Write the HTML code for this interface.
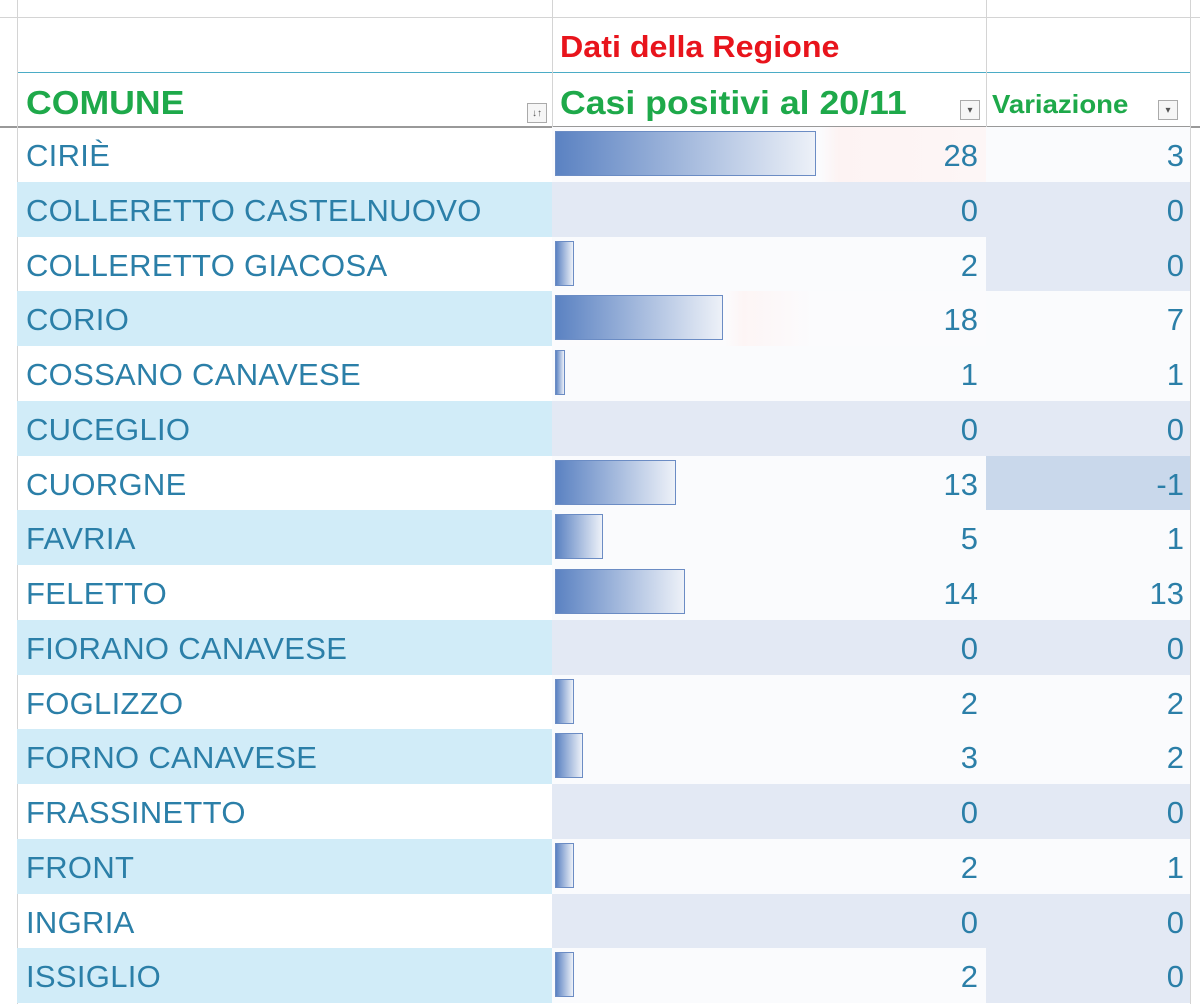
<!DOCTYPE html>
<html><head><meta charset="utf-8"><style>
body{margin:0;width:1200px;height:1004px;overflow:hidden;background:#fff;font-family:"Liberation Sans",sans-serif;position:relative}
.vl{position:absolute;top:0;width:1px;background:#d4d4d4;height:127px}
.hl{position:absolute;left:0;width:1200px;height:1px;background:#d4d4d4}
.r{position:absolute;left:17px;width:1173px;height:55px;font-size:31px;color:#2b7fa8}
.a{position:absolute;left:0;top:0;width:535px;height:100%;padding-left:9px;box-sizing:border-box;line-height:57px;letter-spacing:0.3px}
.b{position:absolute;left:535px;top:0;width:434px;height:100%;text-align:right;padding-right:8px;box-sizing:border-box;line-height:57px}
.c{position:absolute;left:969px;top:0;width:204px;height:100%;text-align:right;padding-right:6px;box-sizing:border-box;line-height:57px}
.bar{position:absolute;left:3px;top:4px;height:45px;box-sizing:border-box;border:1.5px solid #6b8cc4;background:linear-gradient(to right,#5b82c2,#edf1f8)}
.e .a{background:#d1ecf8}
.z{background:#e3e9f4}.p{background:#fafbfd}.n{background:#c9d8eb}
.dd{position:absolute;width:20px;height:20px;border:1px solid #aaa;background:#f6f6f6;font-size:10px;color:#555;text-align:center;line-height:20px;box-sizing:border-box}
</style></head><body>
<div class="hl" style="top:17px"></div>
<div class="hl" style="top:72px;background:#4bacc6;left:17px;width:1173px"></div>
<div class="hl" style="top:126px;background:#999;height:2px"></div>
<div class="vl" style="left:17px;height:1004px"></div>
<div class="vl" style="left:552px"></div>
<div class="vl" style="left:986px"></div>
<div class="vl" style="left:1190px;height:1004px"></div>
<div style="position:absolute;left:560px;top:29px;font-size:31px;font-weight:bold;color:#e8141c;transform:scaleX(1.04);transform-origin:left">Dati della Regione</div>
<div style="position:absolute;left:26px;top:84px;font-size:33px;font-weight:bold;color:#1ea94a;transform:scaleX(1.08);transform-origin:left">COMUNE</div>
<div style="position:absolute;left:560px;top:84px;font-size:33px;font-weight:bold;color:#1ea94a;transform:scaleX(1.08);transform-origin:left">Casi positivi al 20/11</div>
<div style="position:absolute;left:992px;top:89px;font-size:26px;font-weight:bold;color:#1ea94a;transform:scaleX(1.06);transform-origin:left">Variazione</div>
<div class="dd" style="left:527px;top:103px">↓↑</div>
<div class="dd" style="left:960px;top:100px">▾</div>
<div class="dd" style="left:1158px;top:100px">▾</div>

<div class="r" style="top:127px"><div class="a">CIRIÈ</div><div class="b" style="background:linear-gradient(to right,#fbfbfd 62%,#fdf3f3 66%,#fdf6f6)"><div class="bar" style="width:261px"></div>28</div><div class="c p">3</div></div>
<div class="r e" style="top:182px"><div class="a">COLLERETTO CASTELNUOVO</div><div class="b z">0</div><div class="c z">0</div></div>
<div class="r" style="top:237px"><div class="a">COLLERETTO GIACOSA</div><div class="b p"><div class="bar" style="width:19px"></div>2</div><div class="c z">0</div></div>
<div class="r e" style="top:291px"><div class="a">CORIO</div><div class="b" style="background:linear-gradient(to right,#fbfbfd 40%,#fdf5f5 44%,#fbfbfd 60%)"><div class="bar" style="width:168px"></div>18</div><div class="c p">7</div></div>
<div class="r" style="top:346px"><div class="a">COSSANO CANAVESE</div><div class="b p"><div class="bar" style="width:10px"></div>1</div><div class="c p">1</div></div>
<div class="r e" style="top:401px"><div class="a">CUCEGLIO</div><div class="b z">0</div><div class="c z">0</div></div>
<div class="r" style="top:456px"><div class="a">CUORGNE</div><div class="b p"><div class="bar" style="width:121px"></div>13</div><div class="c n">-1</div></div>
<div class="r e" style="top:510px"><div class="a">FAVRIA</div><div class="b p"><div class="bar" style="width:48px"></div>5</div><div class="c p">1</div></div>
<div class="r" style="top:565px"><div class="a">FELETTO</div><div class="b p"><div class="bar" style="width:130px"></div>14</div><div class="c p">13</div></div>
<div class="r e" style="top:620px"><div class="a">FIORANO CANAVESE</div><div class="b z">0</div><div class="c z">0</div></div>
<div class="r" style="top:675px"><div class="a">FOGLIZZO</div><div class="b p"><div class="bar" style="width:19px"></div>2</div><div class="c p">2</div></div>
<div class="r e" style="top:729px"><div class="a">FORNO CANAVESE</div><div class="b p"><div class="bar" style="width:28px"></div>3</div><div class="c p">2</div></div>
<div class="r" style="top:784px"><div class="a">FRASSINETTO</div><div class="b z">0</div><div class="c z">0</div></div>
<div class="r e" style="top:839px"><div class="a">FRONT</div><div class="b p"><div class="bar" style="width:19px"></div>2</div><div class="c p">1</div></div>
<div class="r" style="top:894px"><div class="a">INGRIA</div><div class="b z">0</div><div class="c z">0</div></div>
<div class="r e" style="top:948px"><div class="a">ISSIGLIO</div><div class="b p"><div class="bar" style="width:19px"></div>2</div><div class="c z">0</div></div>
</body></html>
